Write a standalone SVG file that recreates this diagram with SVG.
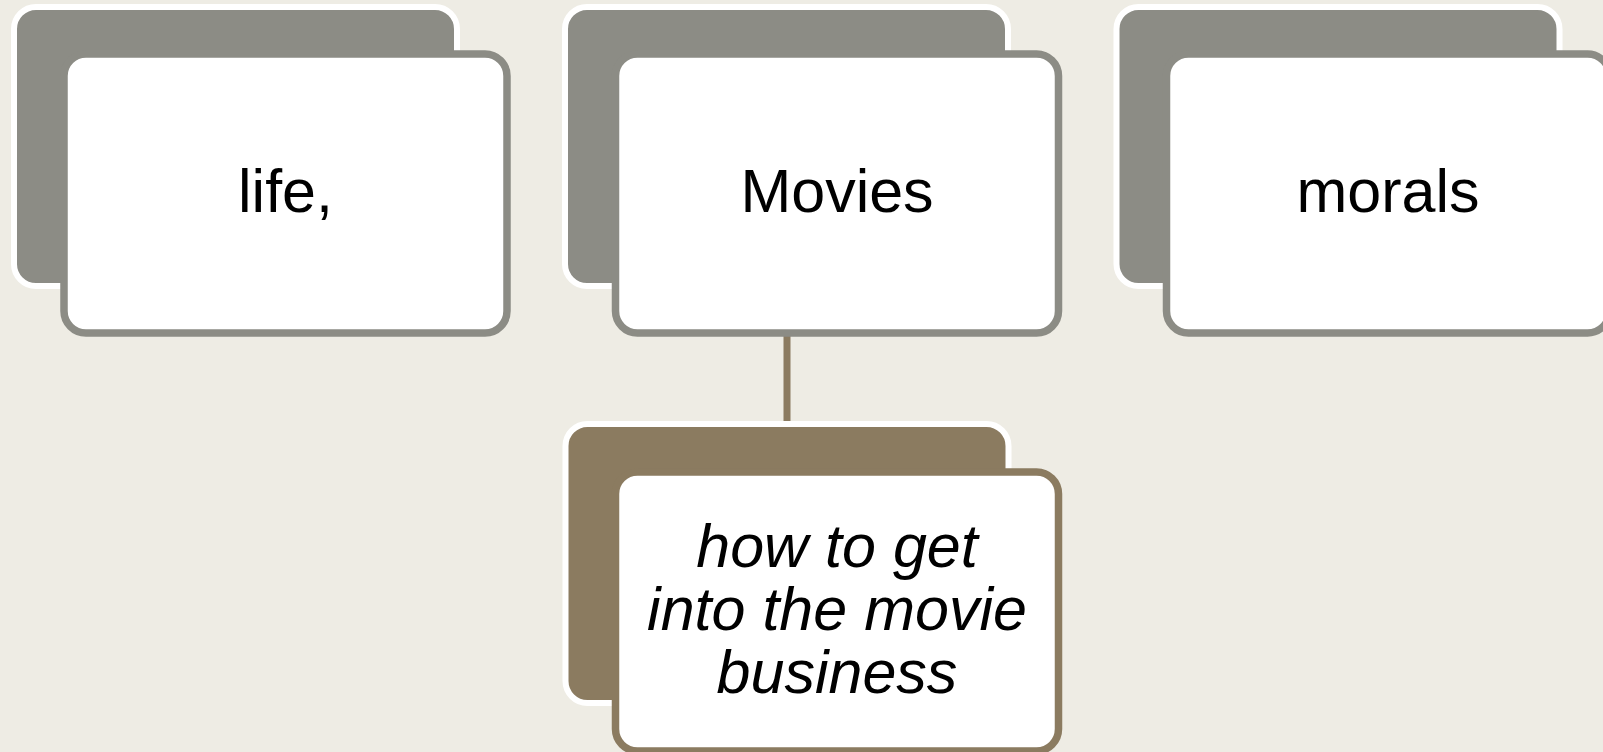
<svg xmlns="http://www.w3.org/2000/svg" width="1603" height="752" viewBox="0 0 1603 752">
  <style>
    .back { stroke: #ffffff; stroke-width: 6; }
    .back.gray { fill: #8c8c85; }
    .back.brown { fill: #8b7b60; }
    .front { fill: #ffffff; stroke-width: 7.5; }
    .front.gray { stroke: #8c8c85; }
    .front.brown { stroke: #8b7b60; }
    .label { font-family: "Liberation Sans", Arial, sans-serif; font-size: 61px; fill: #000000; text-anchor: middle; }
    .italic { font-style: italic; }
    .link { stroke: #8b7b60; stroke-width: 7; fill: none; }
  </style>
  <rect width="1603" height="752" fill="#eeece4"/>

  <!-- connectors -->
  <g id="connectors">
    <line class="link" x1="787" y1="334" x2="787" y2="424"/>
  </g>

  <!-- top row -->
  <g id="node-life">
    <rect class="back gray" x="14" y="7" width="443" height="279" rx="22"/>
    <rect class="front gray" x="64" y="54" width="443" height="279" rx="22"/>
    <text class="label" x="285.5" y="212">life,</text>
  </g>

  <g id="node-movies">
    <rect class="back gray" x="565" y="7" width="443" height="279" rx="22"/>
    <rect class="front gray" x="615.5" y="54" width="443" height="279" rx="22"/>
    <text class="label" x="837" y="212">Movies</text>
  </g>

  <g id="node-morals">
    <rect class="back gray" x="1116.5" y="7" width="443" height="279" rx="22"/>
    <rect class="front gray" x="1166.5" y="54" width="443" height="279" rx="22"/>
    <text class="label" x="1388" y="212">morals</text>
  </g>

  <!-- child of Movies -->
  <g id="node-business">
    <rect class="back brown" x="565.5" y="424" width="443" height="279" rx="22"/>
    <rect class="front brown" x="615.5" y="472" width="443" height="279" rx="22"/>
    <text class="label italic" x="837" y="567">how to get</text>
    <text class="label italic" x="837" y="630">into the movie</text>
    <text class="label italic" x="837" y="693">business</text>
  </g>
</svg>
